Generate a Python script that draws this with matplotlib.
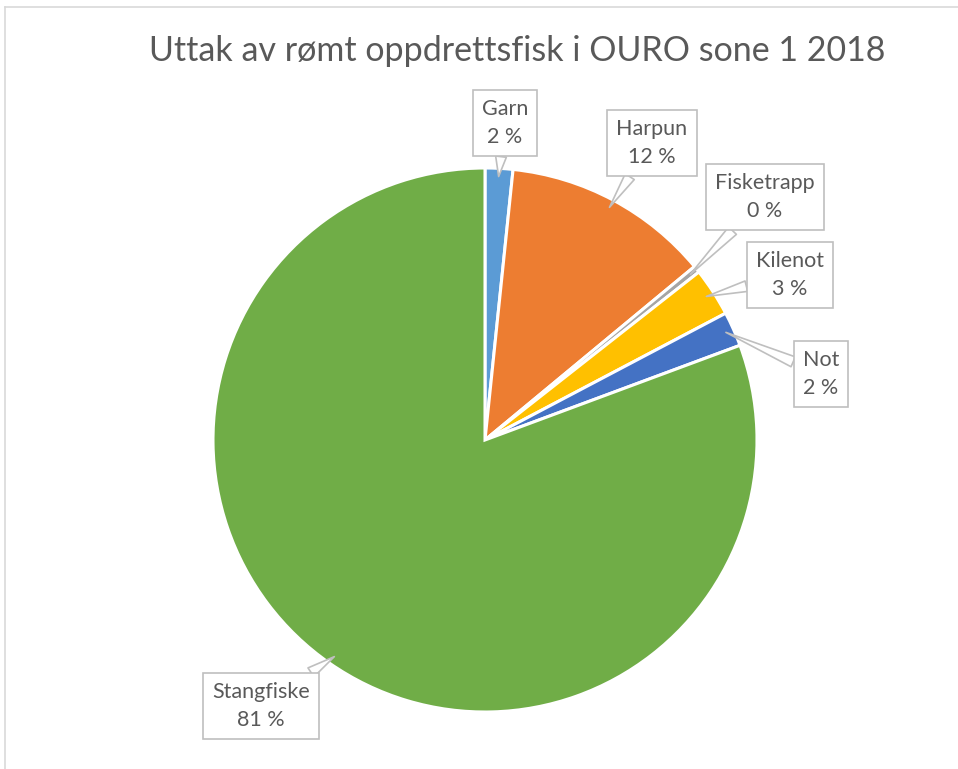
import matplotlib
matplotlib.use("Agg")
import matplotlib.pyplot as plt
import numpy as np

# data (counts, shown as percentages)
categories = ["Garn", "Harpun", "Fisketrapp", "Kilenot", "Not", "Stangfiske"]
counts = [4, 30, 1, 7, 5, 196]
slice_colors = ["#5B9BD5", "#ED7D31", "#A5A5A5", "#FFC000", "#4472C4", "#70AD47"]
title = "Uttak av rømt oppdrettsfisk i OURO sone 1 2018"

# label box centres in pixel coords (y measured from top)
label_pos = [(505, 123), (652, 143), (765, 197), (790, 275), (821, 374), (261, 706)]

W, H = 958, 769
plt.rcParams['font.family'] = ['Lato', 'DejaVu Sans']
fig = plt.figure(figsize=(W / 100, H / 100), dpi=100)
ax = fig.add_axes([0, 0, 1, 1])

cx, cy, r = 485, H - 440, 272
wedges, _ = ax.pie(counts, colors=slice_colors, startangle=90, counterclock=False,
                   center=(cx, cy), radius=r,
                   wedgeprops=dict(edgecolor="white", linewidth=2.2))

ax.set_xlim(0, W)
ax.set_ylim(0, H)
ax.set_aspect("equal")
ax.axis("off")

# chart frame (only left and top visible in the crop)
ax.plot([5, 5], [0, H - 7], color="#D9D9D9", lw=1.2)
ax.plot([5, W], [H - 7, H - 7], color="#D9D9D9", lw=1.2)

ax.text(517, H - 51, title, ha="center", va="center", fontsize=24.5, color="#595959")

total = sum(counts)
for w, name, n, (lx, ly) in zip(wedges, categories, counts, label_pos):
    mid = np.deg2rad((w.theta1 + w.theta2) / 2)
    tip = (cx + 0.97 * r * np.cos(mid), cy + 0.97 * r * np.sin(mid))
    pct = round(100 * n / total)
    ax.annotate(f"{name}\n{pct} %", xy=tip, xytext=(lx, H - ly),
                ha="center", va="center", fontsize=15.5, color="#595959",
                linespacing=1.5,
                bbox=dict(boxstyle="square,pad=0.42", fc="white", ec="#BFBFBF", lw=1.2),
                arrowprops=dict(arrowstyle="wedge,tail_width=0.5", fc="white",
                                ec="#BFBFBF", lw=1.2, shrinkA=0, shrinkB=0))

fig.savefig("out.png", dpi=100)
